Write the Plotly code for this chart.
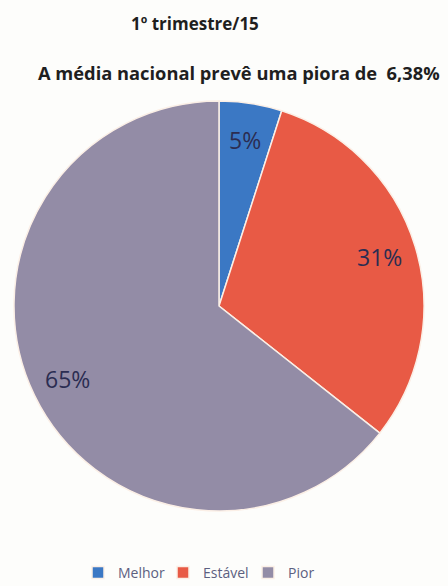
import math
import plotly.graph_objects as go

categories = ["Melhor", "Estável", "Pior"]
values = [5, 31, 65]
colors = ["#3b78c4", "#e85a45", "#938ca6"]

W, H = 448, 586
cx, cy, R = 219, 306, 205  # pie centre / radius in pixels

fig = go.Figure(go.Pie(
    labels=categories,
    values=values,
    marker=dict(colors=colors, line=dict(color="#fbefe6", width=1.5)),
    sort=False,
    direction="clockwise",
    rotation=0,
    textinfo="none",
    domain=dict(x=[(cx - R) / W, (cx + R) / W], y=[(H - cy - R) / H, (H - cy + R) / H]),
    hoverinfo="label+percent",
))

# slice labels placed along each slice's mid angle
total = sum(values)
acc = 0
for v in values:
    mid = (acc + v / 2) / total * 2 * math.pi
    acc += v
    r = 0.82 * R
    px = cx + r * math.sin(mid)
    py = cy - r * math.cos(mid)
    fig.add_annotation(text=f"{v}%", x=px / W, y=1 - py / H, xref="paper", yref="paper",
                       xanchor="center", yanchor="middle", showarrow=False,
                       font=dict(family="Open Sans", size=23, color="#2b2d52"))

fig.add_annotation(text="<b>1º trimestre/15</b>", x=195 / W, y=1 - 23 / H,
                   xref="paper", yref="paper", xanchor="center", yanchor="middle", showarrow=False,
                   font=dict(family="Open Sans", size=17, color="#1f1f1f"))
fig.add_annotation(text="<b>A média nacional prevê uma piora de  6,38%</b>", x=239 / W, y=1 - 72 / H,
                   xref="paper", yref="paper", xanchor="center", yanchor="middle", showarrow=False,
                   font=dict(family="Open Sans", size=18.3, color="#1f1f1f"))

fig.update_layout(
    width=W, height=H,
    margin=dict(l=0, r=0, t=0, b=0, autoexpand=False),
    paper_bgcolor="#fdfdfb",
    plot_bgcolor="#fdfdfb",
    showlegend=True,
    legend=dict(orientation="h", x=78 / W, xanchor="left", y=1 - 573 / H, yanchor="middle",
                font=dict(family="Open Sans", size=14, color="#5c6080"),
                itemwidth=30, entrywidth=40, entrywidthmode="pixels"),
)

fig.write_html("out.html", config={"displayModeBar": False},
               post_script="document.body.style.margin='0';")
